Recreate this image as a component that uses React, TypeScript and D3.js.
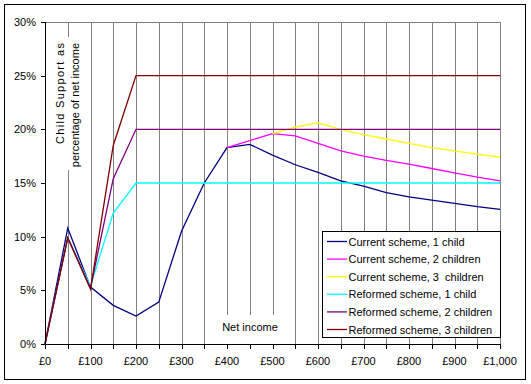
import React from "react";
import * as d3 from "d3";

// net income (£ per week) at which each point is measured
const incomes = [0, 50, 100, 150, 200, 250, 300, 350, 400, 450, 500, 550, 600, 650, 700, 750, 800, 850, 900, 950, 1000];

// child support as % of net income
const current1 = [0, 10.8, 5.3, 3.6, 2.6, 3.9, 10.5, 15.0, 18.3, 18.6, 17.6, 16.7, 16.0, 15.2, 14.7, 14.1, 13.7, 13.4, 13.1, 12.8, 12.55];
const current2 = [null, null, null, null, null, null, null, null, 18.3, 18.95, 19.6, 19.4, 18.7, 18.0, 17.5, 17.1, 16.75, 16.35, 15.95, 15.55, 15.2];
const current3 = [null, null, null, null, null, null, null, null, null, null, 19.6, 20.2, 20.6, 20.0, 19.5, 19.1, 18.7, 18.3, 18.0, 17.7, 17.4];
const reformed1 = [0, 9.9, 5.4, 12.2, 15, 15, 15, 15, 15, 15, 15, 15, 15, 15, 15, 15, 15, 15, 15, 15, 15];
const reformed2 = [0, 9.9, 5.2, 15.4, 20, 20, 20, 20, 20, 20, 20, 20, 20, 20, 20, 20, 20, 20, 20, 20, 20];
const reformed3 = [0, 9.9, 5.1, 18.5, 25, 25, 25, 25, 25, 25, 25, 25, 25, 25, 25, 25, 25, 25, 25, 25, 25];

const seriesNames = [
  "Current scheme, 1 child",
  "Current scheme, 2 children",
  "Current scheme, 3  children",
  "Reformed scheme, 1 child",
  "Reformed scheme, 2 children",
  "Reformed scheme, 3 children",
];
const seriesValues = [current1, current2, current3, reformed1, reformed2, reformed3];
const seriesColors = ["#000080", "#ff00ff", "#ffff00", "#00ffff", "#800080", "#800000"];

const yTicks = [0, 5, 10, 15, 20, 25, 30];
const xLabelTicks = [0, 100, 200, 300, 400, 500, 600, 700, 800, 900, 1000];
const gridTicks = d3.range(0, 1001, 50);

const font = "Arial, 'Liberation Sans', sans-serif";

export default function App() {
  const width = 531;
  const height = 384;
  const x = d3.scaleLinear().domain([0, 1000]).range([45, 500]);
  const y = d3.scaleLinear().domain([0, 30]).range([344, 22]);
  const px = (v: number) => Math.round(x(v)) + 0.5;

  const line = d3
    .line<number | null>()
    .defined(d => d != null)
    .x((_, i) => x(incomes[i]))
    .y(d => y(d as number));

  const legendX = 322.5;
  const legendY = 231.5;

  return (
    <svg
      width={width}
      height={height}
      style={{ position: "absolute", left: 0, top: 0, background: "#fff" }}
      fontFamily={font}
      fontSize={11}
    >
      <rect x={4.5} y={4.5} width={521} height={375} fill="#fff" stroke="#000" />

      {/* vertical gridlines */}
      <g stroke="#808080" shapeRendering="crispEdges">
        {gridTicks.filter(t => t > 0).map(t => (
          <line key={t} x1={px(t)} x2={px(t)} y1={22} y2={344} />
        ))}
        <line x1={45} x2={500} y1={22.5} y2={22.5} />
      </g>

      {/* series */}
      {seriesValues.map((vals, i) => (
        <path key={i} d={line(vals) || ""} fill="none" stroke={seriesColors[i]} strokeWidth={1.3} />
      ))}

      {/* axes */}
      <g stroke="#000" shapeRendering="crispEdges">
        <line x1={45.5} x2={45.5} y1={22} y2={345} />
        <line x1={45} x2={500} y1={344.5} y2={344.5} />
        {yTicks.map(t => (
          <line key={t} x1={41} x2={45} y1={Math.round(y(t)) + 0.5} y2={Math.round(y(t)) + 0.5} />
        ))}
        {gridTicks.map(t => (
          <line key={t} x1={px(t)} x2={px(t)} y1={344} y2={349} />
        ))}
      </g>
      {yTicks.map(t => (
        <text key={t} x={36} y={y(t)} textAnchor="end" dominantBaseline="central">
          {t}%
        </text>
      ))}
      {xLabelTicks.map(t => (
        <text key={t} x={x(t)} y={361} textAnchor="middle" dominantBaseline="central">
          {"£" + d3.format(",")(t)}
        </text>
      ))}

      {/* axis titles as text boxes */}
      <rect x={50} y={37} width={33} height={133} fill="#fff" />
      <text
        transform="translate(60,43) rotate(-90)"
        textAnchor="end"
        dominantBaseline="central"
        textLength={101}
        lengthAdjust="spacing"
      >
        Child Support as
      </text>
      <text transform="translate(75,43) rotate(-90)" textAnchor="end" dominantBaseline="central">
        percentage of net income
      </text>

      <rect x={216} y={315} width={64} height={29} fill="#fff" />
      <text x={250} y={327} textAnchor="middle" dominantBaseline="central">
        Net income
      </text>

      {/* legend */}
      <rect x={legendX} y={legendY} width={177.5} height={106} fill="#fff" stroke="#000" shapeRendering="crispEdges" />
      {seriesNames.map((name, i) => {
        const ry = 241.5 + i * 17.6;
        return (
          <g key={name}>
            <line x1={327} x2={347} y1={ry} y2={ry} stroke={seriesColors[i]} strokeWidth={1.3} />
            <text x={348.5} y={ry} dominantBaseline="central" style={{ whiteSpace: "pre" }}>
              {name}
            </text>
          </g>
        );
      })}
    </svg>
  );
}
